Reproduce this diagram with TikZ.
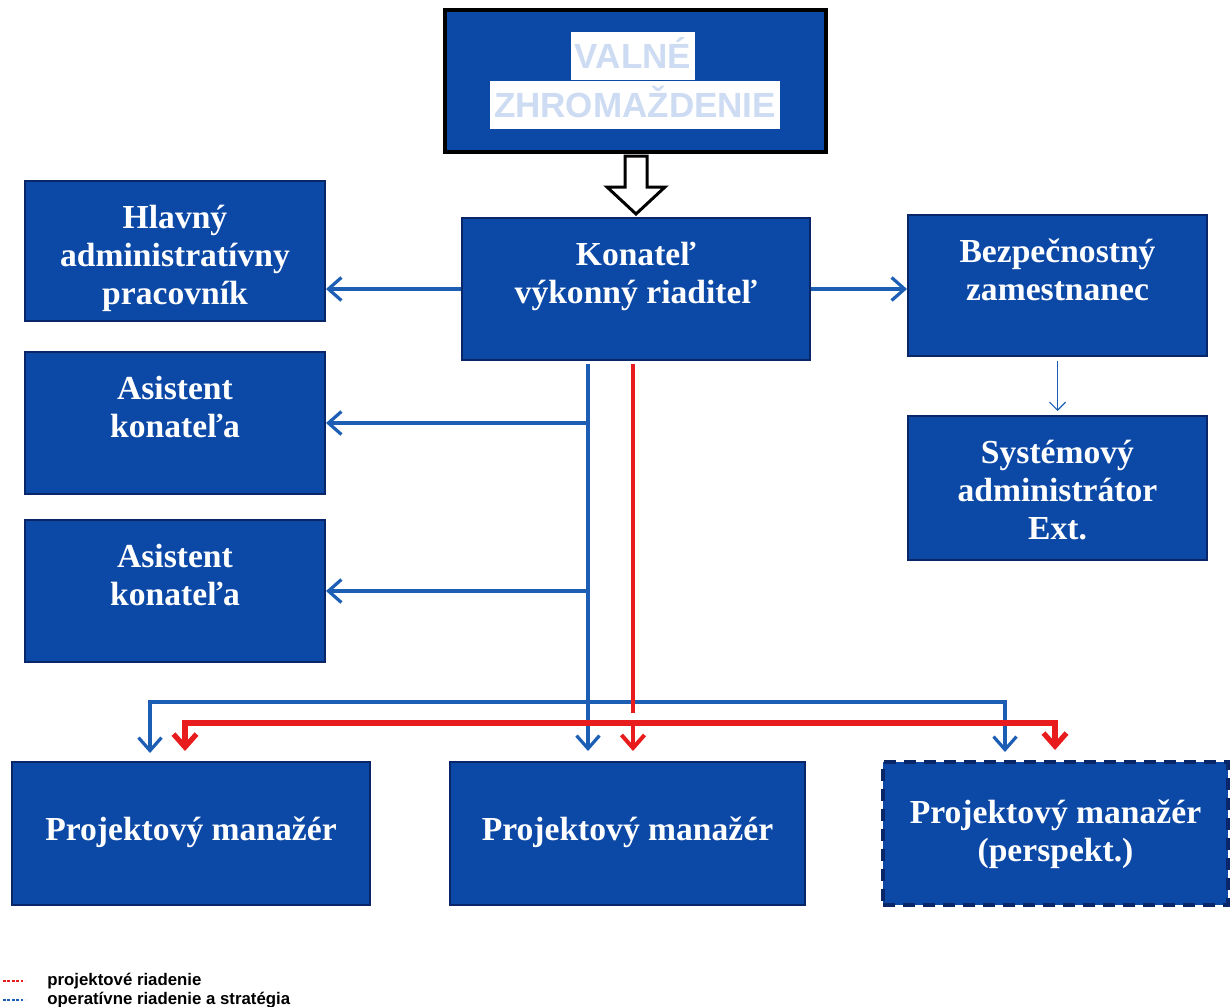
\documentclass[tikz,border=0pt]{standalone}
\usepackage{fontspec}
\setmainfont{Liberation Serif}
\newfontfamily\legendfont{Liberation Sans}
\usetikzlibrary{arrows.meta}
\definecolor{boxblue}{RGB}{12,72,166}
\definecolor{boxline}{RGB}{8,38,104}
\definecolor{opblue}{RGB}{28,94,180}
\definecolor{prred}{RGB}{232,28,28}
\definecolor{paleblue}{RGB}{205,220,242}
\newcommand{\boxtxt}[1]{\begin{tabular}[t]{@{}c@{}}#1\end{tabular}}

\begin{document}
\begin{tikzpicture}[x=0.5pt, y=-0.5pt, >={Straight Barb[length=6.5pt,width=11.5pt]},
  main/.style = {draw=boxline, line width=1pt, fill=boxblue, text=white, inner sep=0pt,
                 font=\bfseries\fontsize{16.8}{19}\selectfont, text height=23.5pt},
  tag/.style = {fill=white, text=paleblue, inner xsep=2pt, inner ysep=2pt, text height=16pt, text depth=4pt,
                font=\legendfont\bfseries\fontsize{17.5}{20}\selectfont},
  op/.style = {draw=opblue, line width=1.6pt, ->},
  pr/.style = {draw=prred, line width=2pt, ->},
  leg/.style = {inner sep=0pt, font=\legendfont\bfseries\fontsize{8.4}{10}\selectfont}]
\useasboundingbox (0,0) rectangle (1232,1007);

\node[main, draw=black, line width=2.2pt, minimum width=190.5pt, minimum height=71pt, text height=0pt] (1) at (635.5,81) {};
\node[tag] (1a) at (633,56) {VALNÉ};
\node[tag] (1b) at (635,105) {ZHROMAŽDENIE};

\node[main, minimum width=174pt, text depth=47.5pt] (2) at (636,289) {\boxtxt{Konateľ\\výkonný riaditeľ}};
\node[main, minimum width=150pt, text depth=46.5pt] (3) at (175,251) {\boxtxt{Hlavný\\administratívny\\pracovník}};
\node[main, minimum width=150pt, text depth=47.5pt] (4) at (175,423) {\boxtxt{Asistent\\konateľa}};
\node[main, minimum width=150pt, text depth=47.5pt] (5) at (175,591) {\boxtxt{Asistent\\konateľa}};
\node[main, minimum width=149.5pt, text depth=47pt] (6) at (1057.5,285.5) {\boxtxt{Bezpečnostný\\zamestnanec}};
\node[main, minimum width=149.5pt, text depth=48.5pt] (7) at (1057.5,488) {\boxtxt{Systémový\\administrátor\\Ext.}};
\node[main, minimum width=179pt, text height=39pt, text depth=32.5pt] (8) at (191,833.5) {Projektový manažér};
\node[main, minimum width=177.5pt, text height=39pt, text depth=32.5pt] (9) at (627.5,833.5) {Projektový manažér};
\node[main, draw=boxline, line width=2pt, dash pattern=on 6pt off 4pt, minimum width=172.5pt, text height=30.5pt, text depth=41pt] (10) at (1055.5,833.5) {\boxtxt{Projektový manažér\\(perspekt.)}};

% hollow arrow
\draw[line width=1.5pt, fill=white] ([yshift=1.5pt]2.north) -- ++(-14.5pt,13.5pt) -- ++(9pt,0) -- ++(0,15.5pt)
  -- ++(11pt,0) -- ++(0,-15.5pt) -- ++(9pt,0) -- cycle;

\draw[op] (2.west) -- (2.west -| 3.east);
\draw[op] (2.east) -- (2.east -| 6.west);
\draw[draw=opblue, line width=0.6pt, -{Straight Barb[length=4pt,width=8pt]}, shorten <=2pt, shorten >=2pt] (6.south) -- (7.north);

\coordinate (bt) at ([xshift=-24pt]2.south);
\coordinate (rt) at ([xshift=-1.5pt]2.south);
\coordinate (bl) at (150,702);
\coordinate (br) at (1005,702);
\coordinate (rl) at (185,723);
\coordinate (rr) at (1055,723);

% operativne
\draw[op, shorten <=1.5pt, shorten >=5pt] (bt) -- (bt |- 9.north);
\draw[op] (bt |- 4.east) -- (4.east);
\draw[op] (bt |- 5.east) -- (5.east);
\draw[op, <->, shorten <=4pt, shorten >=4pt] (bl |- 8.north) -- (bl) -- (br) -- (br |- 10.north);

% projektove
\draw[pr, -, shorten <=1.5pt] (rt) -- ([yshift=5pt]rt |- rl);
\draw[pr, <->, line width=2.6pt, shorten <=5pt, shorten >=5pt] (rl |- 8.north) -- (rl) -- (rr) -- (rr |- 10.north);
\draw[pr, shorten >=5pt] (rt |- rl) -- (rt |- 9.north);

\node[leg, anchor=base west] (11) at (47,985) {projektové riadenie};
\node[leg, anchor=base west] (12) at (47,1004) {operatívne riadenie a stratégia};
\draw[prred, line width=1.4pt, dash pattern=on 1.4pt off 0.8pt] ([shift={(-22pt,2pt)}]11.base west) -- ++(11pt,0);
\draw[opblue, line width=1.4pt, dash pattern=on 1.4pt off 0.8pt] ([shift={(-22pt,2pt)}]12.base west) -- ++(11pt,0);
\end{tikzpicture}
\end{document}
